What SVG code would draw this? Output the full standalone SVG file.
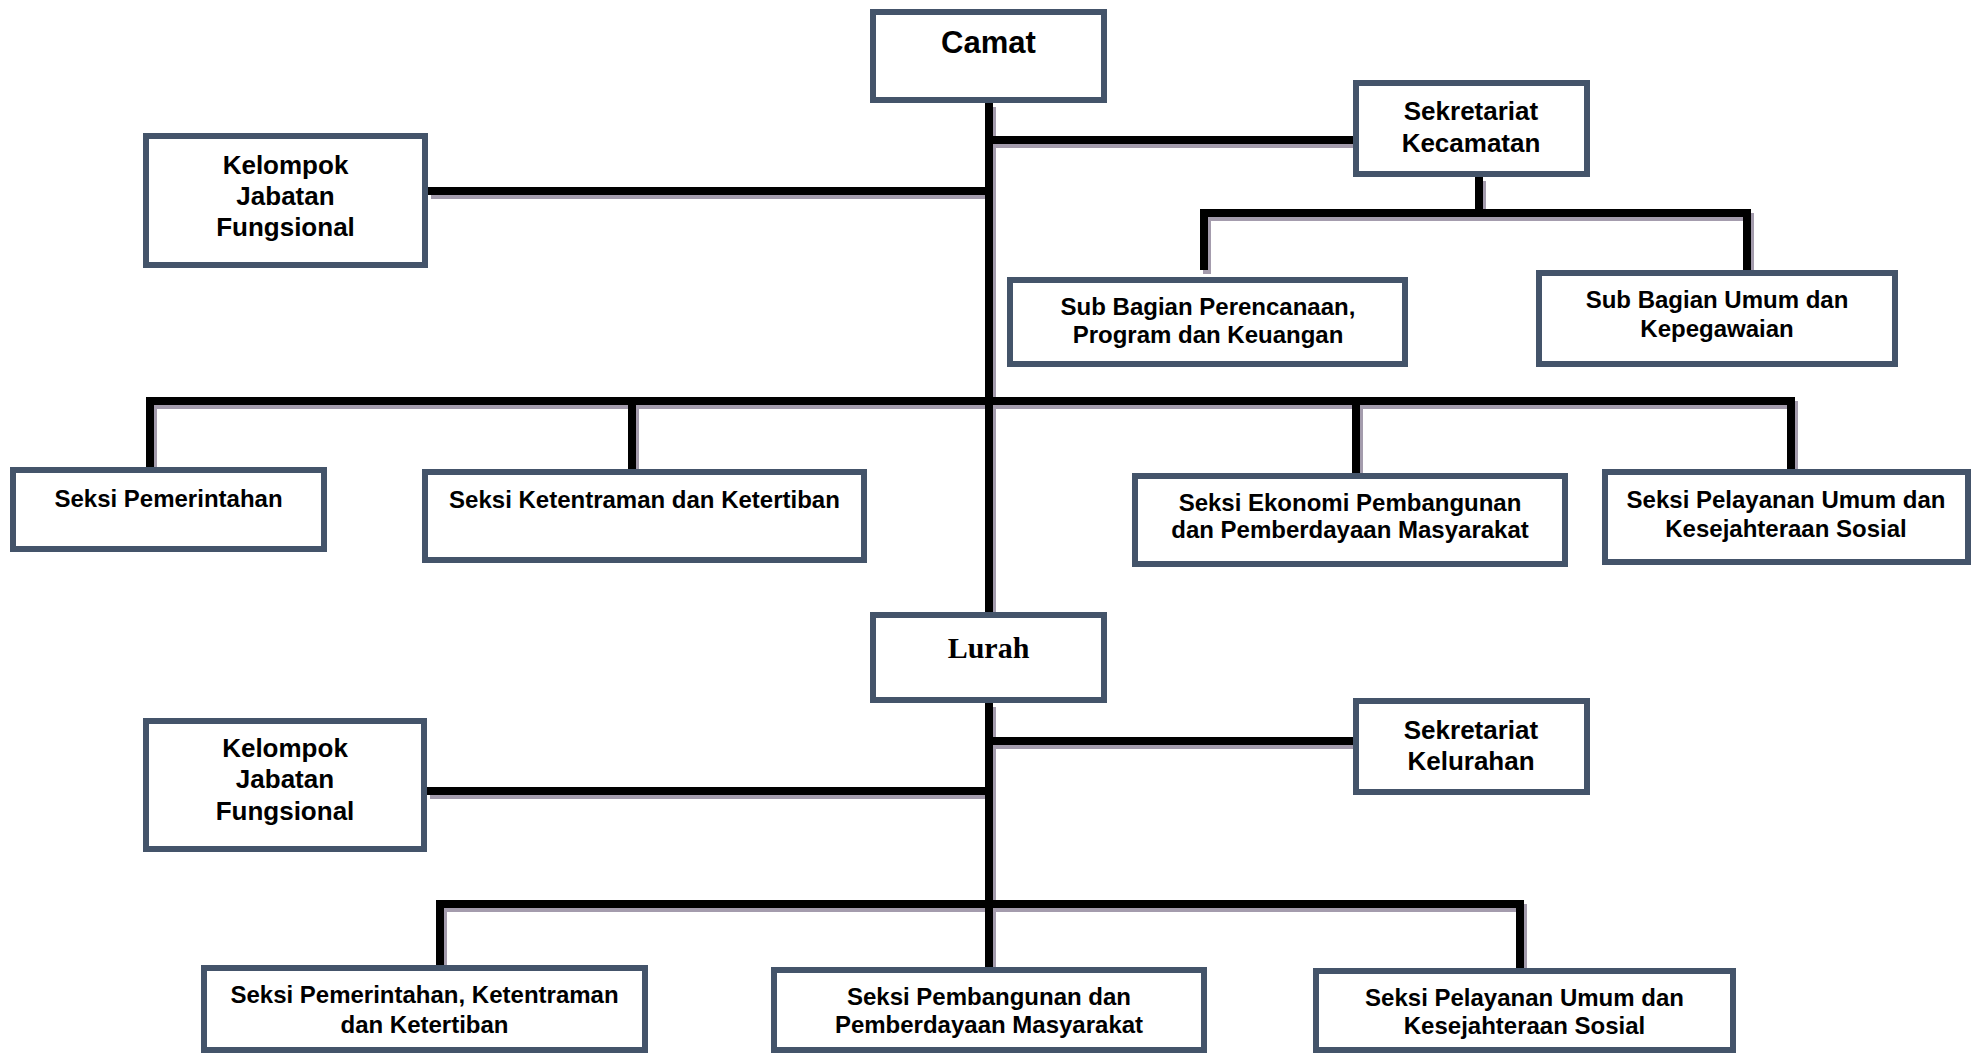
<svg xmlns="http://www.w3.org/2000/svg" width="1972" height="1056" viewBox="0 0 1972 1056">
<style>
.box{fill:#ffffff;stroke:#44546A;stroke-width:6}
.t{font-family:"Liberation Sans",Arial,sans-serif;font-weight:bold;fill:#000;text-anchor:middle}
.s24{font-size:24px}
.s26{font-size:26px}
.ln{fill:none;stroke:#000;stroke-width:8;stroke-linecap:butt}
.sh{fill:none;stroke:#A49CAD;stroke-width:8}
</style>
<rect width="1972" height="1056" fill="#ffffff"/>
<defs>
<g id="wires">
<path d="M989 103V612"/>
<path d="M989 140H1353"/>
<path d="M428 191H989"/>
<path d="M1479 177V213"/>
<path d="M1200 213H1751"/>
<path d="M1204 209V270"/>
<path d="M1747 209V270"/>
<path d="M146 401H1795"/>
<path d="M150 397V467"/>
<path d="M632 401V469"/>
<path d="M1356 401V473"/>
<path d="M1791 397V469"/>
<path d="M989 703V967"/>
<path d="M989 741H1353"/>
<path d="M427 791H989"/>
<path d="M436 904H1524"/>
<path d="M440 900V965"/>
<path d="M1520 900V968"/>
</g>
</defs>
<g id="connectors">
<use href="#wires" class="sh" transform="translate(3,4)"/>
<use href="#wires" class="ln"/>
</g>
<g id="camat"><rect class="box" x="873" y="12" width="231" height="88"/><text class="t" x="988.5" y="53" font-size="31">Camat</text></g>
<g id="sekretariat-kecamatan"><rect class="box" x="1356" y="83" width="231" height="91"/><text class="t s26" x="1471" y="120">Sekretariat</text><text class="t s26" x="1471" y="152">Kecamatan</text></g>
<g id="kelompok-1"><rect class="box" x="146" y="136" width="279" height="129"/><text class="t s26" x="285.5" y="174">Kelompok</text><text class="t s26" x="285.5" y="205">Jabatan</text><text class="t s26" x="285.5" y="236">Fungsional</text></g>
<g id="subbag-perencanaan"><rect class="box" x="1010" y="280" width="395" height="84"/><text class="t s24" x="1208" y="315">Sub Bagian Perencanaan,</text><text class="t s24" x="1208" y="343">Program dan Keuangan</text></g>
<g id="subbag-umum"><rect class="box" x="1539" y="273" width="356" height="91"/><text class="t s24" x="1717" y="308">Sub Bagian Umum dan</text><text class="t s24" x="1717" y="337">Kepegawaian</text></g>
<g id="seksi-pemerintahan"><rect class="box" x="13" y="470" width="311" height="79"/><text class="t s24" x="168.5" y="507">Seksi Pemerintahan</text></g>
<g id="seksi-ketentraman"><rect class="box" x="425" y="472" width="439" height="88"/><text class="t s24" x="644.5" y="508">Seksi Ketentraman dan Ketertiban</text></g>
<g id="seksi-ekonomi"><rect class="box" x="1135" y="476" width="430" height="88"/><text class="t s24" x="1350" y="511">Seksi Ekonomi Pembangunan</text><text class="t s24" x="1350" y="538">dan Pemberdayaan Masyarakat</text></g>
<g id="seksi-pelayanan-1"><rect class="box" x="1605" y="472" width="363" height="90"/><text class="t s24" x="1786" y="508">Seksi Pelayanan Umum dan</text><text class="t s24" x="1786" y="537">Kesejahteraan Sosial</text></g>
<g id="lurah"><rect class="box" x="873" y="615" width="231" height="85"/><text x="988.5" y="658" font-family="'Liberation Serif','Times New Roman',serif" font-weight="bold" font-size="30" text-anchor="middle">Lurah</text></g>
<g id="sekretariat-kelurahan"><rect class="box" x="1356" y="701" width="231" height="91"/><text class="t s26" x="1471" y="739">Sekretariat</text><text class="t s26" x="1471" y="770">Kelurahan</text></g>
<g id="kelompok-2"><rect class="box" x="146" y="721" width="278" height="128"/><text class="t s26" x="285" y="757">Kelompok</text><text class="t s26" x="285" y="788">Jabatan</text><text class="t s26" x="285" y="820">Fungsional</text></g>
<g id="seksi-pem-ketentraman"><rect class="box" x="204" y="968" width="441" height="82"/><text class="t s24" x="424.5" y="1003">Seksi Pemerintahan, Ketentraman</text><text class="t s24" x="424.5" y="1033">dan Ketertiban</text></g>
<g id="seksi-pembangunan"><rect class="box" x="774" y="970" width="430" height="80"/><text class="t s24" x="989" y="1005">Seksi Pembangunan dan</text><text class="t s24" x="989" y="1033">Pemberdayaan Masyarakat</text></g>
<g id="seksi-pelayanan-2"><rect class="box" x="1316" y="971" width="417" height="79"/><text class="t s24" x="1524.5" y="1006">Seksi Pelayanan Umum dan</text><text class="t s24" x="1524.5" y="1034">Kesejahteraan Sosial</text></g>
</svg>
